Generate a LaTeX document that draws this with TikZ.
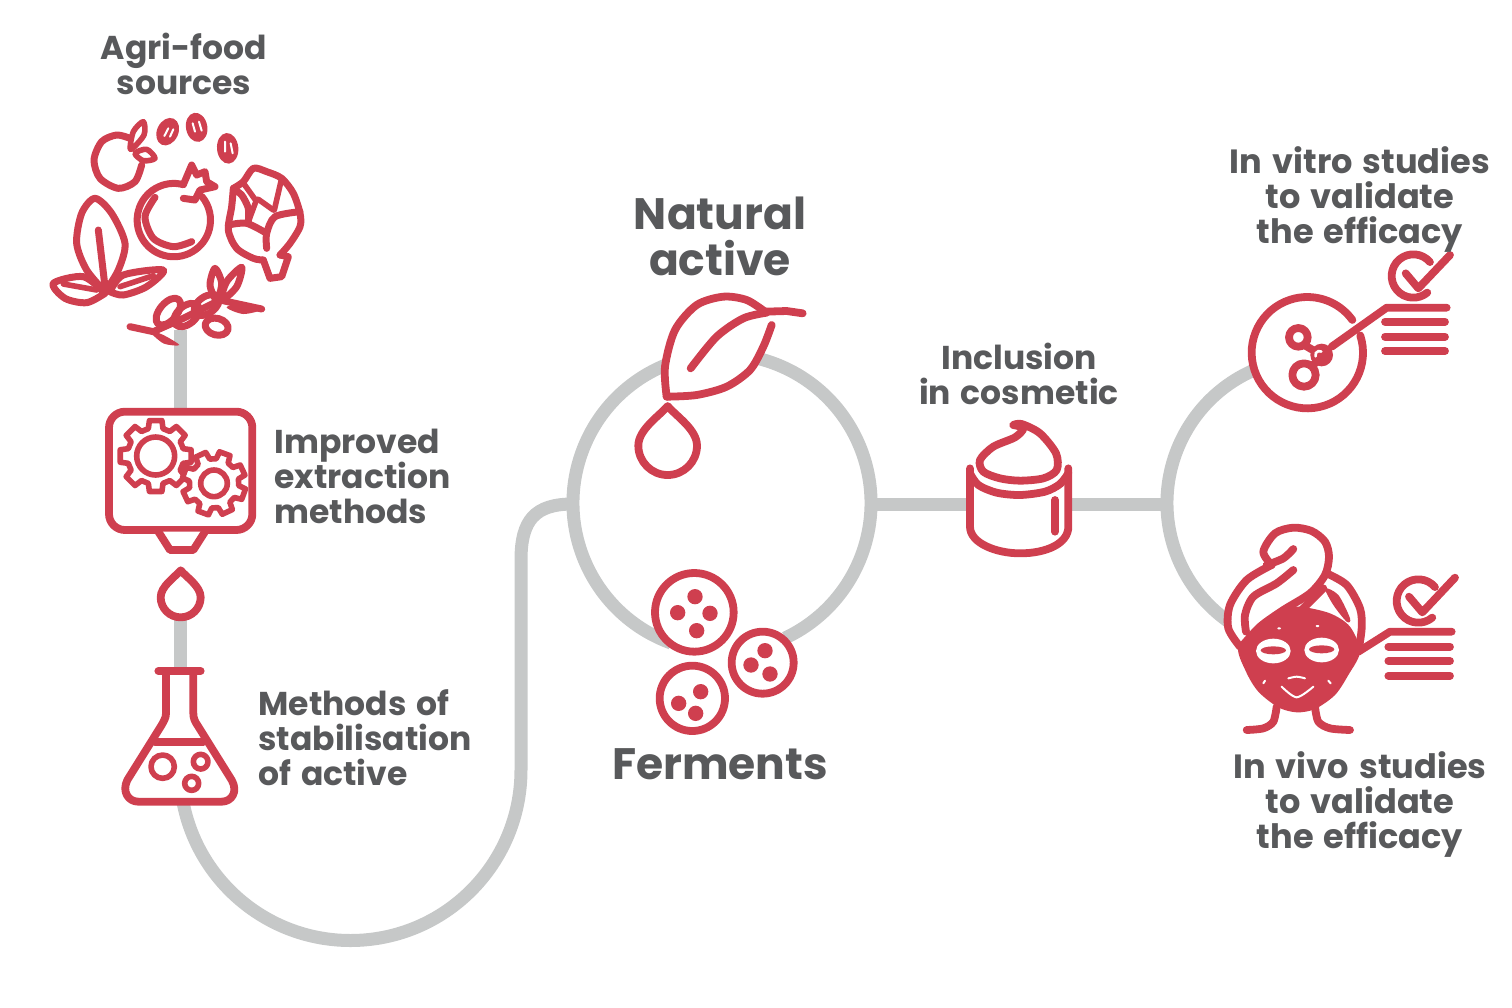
\documentclass[tikz,border=0pt]{standalone}
\usepackage{fontspec}
\setmainfont{Poppins}[WordSpace=1.4]
\normallineskiplimit=-100pt
\lineskiplimit=-100pt
\AtBeginDocument{\normallineskiplimit=-100pt \lineskiplimit=-100pt}
\definecolor{redc}{HTML}{CF3F4F}
\definecolor{grayc}{HTML}{C6C8C8}
\definecolor{textc}{HTML}{58595B}
\tikzset{
  ic/.style={draw=redc,line width=3.9pt,line cap=round,line join=round},
  icfood/.style={ic,line width=3.5pt},
  icthin/.style={ic,line width=2.8pt},
  ln/.style={draw=grayc,line width=6.5pt},
  spot/.style={fill=redc,draw=none},
  wline/.style={draw=white,line width=1pt,line cap=round},
  zoomed/.style={x=0.166667pt,y=-0.166667pt},
  lab/.style={font=\bfseries\fontsize{16.5}{17.5}\selectfont,text=textc,align=#1,inner sep=0pt},
  labw/.style={font=\bfseries\fontsize{16.8}{17.5}\selectfont,text=textc,align=center,inner sep=0pt},
  big/.style={font=\bfseries\fontsize{22}{23}\selectfont,text=textc,align=center,inner sep=0pt}
}
\newcommand\dropicon[3]{\draw[ic,fill=white,shift={(#1,#2)},scale=#3] (0,-1.35) .. controls (-0.3,-1) and (-1,-0.55) .. (-1,0) .. controls (-1,0.55) and (-0.55,1) .. (0,1) .. controls (.55,1) and (1,.55) .. (1,0) .. controls (1,-.55) and (.3,-1) .. (0,-1.35) -- cycle;}
\newcommand\gearicon[6]{\begin{scope}[shift={(#1,#2)}]
\draw[icthin,fill=white] ({#6-22}:#4) \foreach \k in {0,...,#5} { -- ({#6+\k*360/(#5+1)-15}:#4) -- ({#6+\k*360/(#5+1)-10}:#3) -- ({#6+\k*360/(#5+1)+10}:#3) -- ({#6+\k*360/(#5+1)+15}:#4)} -- cycle;
\end{scope}}
\begin{document}
\begin{tikzpicture}[x=0.5pt,y=-0.5pt]
\useasboundingbox (0,0) rectangle (1512,1008);
% connectors
\coordinate (srcend) at (180,330);
\coordinate (boxtop) at (180,415);
\coordinate (dropend) at (180,610);
\coordinate (flasktop) at (180,672);
\coordinate (flaskbot) at (180,800);
\coordinate (loopa) at (180,770);
\coordinate (hubw) at (573,504);
\coordinate (hube) at (871,504);
\coordinate (fork) at (1167,504);
\coordinate (hubc) at (722,503);
\coordinate (forkc) at (1312,503);
\draw[ln] (srcend) -- (boxtop);
\draw[ln] (dropend) -- (flasktop);
\draw[ln] (flaskbot) -- (loopa) arc[start angle=180,end angle=0,radius=170.5] -- (521,560) .. controls (521,520) and (535,504) .. (hubw);
\draw[ln] (hubc) ++(110:149) arc[start angle=110,end angle=425,radius=149];
\draw[ln] (hube) -- (fork);
\draw[ln] (forkc) ++(-112:145) arc[start angle=248,end angle=123,radius=145];
% Agri-food
\begin{scope}[shift={(40,110)},zoomed]
\draw[icfood] plot[smooth] coordinates {(270,85) (230,75) (185,95) (162,150) (180,205) (235,235) (285,215) (305,165)};
\draw[icthin] plot[smooth cycle] coordinates {(272,118) (280,65) (310,35) (312,75)};
\draw[icthin] plot[smooth cycle] coordinates {(285,130) (320,118) (345,145) (310,152)};
\fill[redc] (383,65) ellipse[x radius=32,y radius=43,rotate=-25];
\fill[redc] (470,52) ellipse[x radius=32,y radius=44,rotate=10];
\fill[redc] (563,115) ellipse[x radius=32,y radius=46,rotate=5];
\draw[wline] (373,78) -- (385,55) (390,80) -- (400,58) (458,40) -- (465,65) (477,35) -- (485,62) (555,95) -- (555,125) (572,100) -- (578,130);
\draw[icfood] (430,224) arc[start angle=-75,end angle=-400,radius=110];
\draw[icfood] (430,224) -- (455,165) -- (470,195) -- (495,185) -- (500,215) -- (525,230) -- (480,240) -- (465,270) -- (430,265);
\draw[icfood] plot[smooth] coordinates {(345,262) (315,320) (340,385) (400,410) (455,395)};
\draw[icfood] plot[smooth] coordinates {(580,235) (610,215) (640,175) (680,185) (725,205) (760,250) (780,310) (780,350) (750,400) (720,435)};
\draw[icfood] (720,435) -- (745,440) -- (725,500) -- (690,505) -- (670,450);
\draw[icfood] plot[smooth] coordinates {(670,450) (640,445) (590,415) (565,360) (575,290) (580,235)};
\draw[icfood] plot[smooth] coordinates {(580,238) (605,255) (625,295) (625,335)};
\draw[icthin] (612,222) -- (645,268);
\draw[icthin] (650,268) -- (625,335);
\draw[icthin] (655,268) -- (700,300);
\draw[icthin] (725,205) -- (703,300);
\draw[icfood] plot[smooth] coordinates {(565,345) (620,340) (680,370)};
\draw[icfood] plot[smooth] coordinates {(680,415) (680,370) (705,320) (780,305)};
\draw[icfood] plot[smooth] coordinates {(195,545) (140,480) (110,400) (125,310) (165,265) (215,310) (255,400) (235,480) (195,545)};
\draw[icfood] (175,360) -- (195,530);
\draw[icfood] plot[smooth] coordinates {(195,550) (130,500) (40,520) (75,565) (140,578) (195,550)};
\draw[icthin] (70,522) -- (170,540);
\draw[icfood] plot[smooth] coordinates {(210,545) (250,495) (370,480) (320,530) (250,555) (210,545)};
\draw[icthin] (240,530) -- (340,497);
\draw[spot] plot[smooth cycle] coordinates {(325,660) (370,675) (418,705) (370,700)};
\draw[icfood] (270,650) -- (340,665) -- (430,625) -- (540,570);
\draw[icfood] (540,570) -- (665,597);
\draw[icfood] (385,605) ellipse[x radius=48,y radius=26,rotate=50];
\draw[icfood] (440,615) ellipse[x radius=44,y radius=27,rotate=40];
\draw[icfood] (500,585) ellipse[x radius=42,y radius=25,rotate=35];
\draw[icfood] (530,650) ellipse[x radius=35,y radius=25,rotate=-15];
\draw[icfood] plot[smooth cycle] coordinates {(525,475) (510,525) (530,570) (545,520)};
\draw[icfood] plot[smooth cycle] coordinates {(605,472) (560,515) (545,570) (590,530)};
\draw[spot] plot[smooth cycle] coordinates {(668,597) (610,578) (560,592) (610,612)};
\end{scope}
% gears + flask
\begin{scope}[shift={(90,400)},zoomed]
\draw[ic,fill=white,rounded corners=8pt] (57,35) rectangle (487,390);
\draw[ic,fill=white] (205,395) -- (240,450) -- (310,450) -- (345,395);
\gearicon{197}{168}{108}{85}{7}{0}
\draw[icthin] (197,168) circle[radius=57];
\gearicon{372}{250}{96}{74}{7}{20}
\draw[icthin] (372,250) circle[radius=40];
\dropicon{272}{592}{60}
\draw[ic,fill=white] (228,813) -- (228,940) .. controls (228,955) and (220,965) .. (215,975) -- (112,1140) .. controls (95,1175) and (115,1205) .. (145,1205) -- (395,1205) .. controls (425,1205) and (445,1175) .. (425,1140) -- (322,975) .. controls (315,965) and (310,955) .. (310,940) -- (310,813);
\draw[ic] (205,813) -- (332,813);
\draw[ic] (195,1025) -- (340,1025);
\draw[icthin] (218,1100) circle[radius=35];
\draw[icthin] (332,1085) circle[radius=22];
\draw[icthin] (305,1150) circle[radius=21];
\end{scope}
% natural active
\begin{scope}[shift={(620,280)},zoomed]
\fill[white] plot[smooth cycle] coordinates {(140,350) (135,260) (165,150) (230,75) (310,50) (380,60) (435,95) (455,135) (430,200) (390,270) (320,320) (230,345)};
\draw[ic] plot[smooth] coordinates {(140,350) (135,260) (165,150) (230,75) (310,50) (380,60) (435,95)};
\draw[ic] (435,95) -- (500,93) -- (548,100);
\draw[ic] plot[smooth] coordinates {(212,265) (290,170) (370,115) (440,98)};
\draw[ic] plot[smooth] coordinates {(140,350) (230,345) (320,320) (390,270) (430,200) (455,135)};
\dropicon{143}{497}{88}
\end{scope}
% ferments
\begin{scope}[shift={(640,560)},zoomed]
\draw[ic,fill=white] (163,157) circle[radius=118];
\draw[ic,fill=white] (368,308) circle[radius=93];
\draw[ic,fill=white] (157,415) circle[radius=98];
\foreach \p in {(165,110),(113,158),(210,160),(170,212),(375,272),(333,315),(390,342),(182,395),(116,430),(167,460)} \fill[redc] \p circle[radius=23];
\end{scope}
% jar
\begin{scope}[shift={(950,410)},zoomed]
\draw[ic,fill=white] (60,175) -- (60,350) .. controls (60,400) and (140,430) .. (210,430) .. controls (290,430) and (355,400) .. (355,350) -- (355,175);
\draw[ic] plot[smooth] coordinates {(60,190) (85,225) (140,248) (210,255) (285,245) (330,222) (355,190)};
\draw[ic,fill=white] plot[smooth] coordinates {(190,45) (220,55) (195,82) (130,110) (90,150) (100,185) (150,205) (210,212) (280,205) (320,180) (318,130) (270,70) (215,42) (190,45)};
\draw[ic] (315,270) -- (315,365);
\end{scope}
% in vitro
\begin{scope}[shift={(1230,240)},zoomed]
\fill[white] (232,338) circle[radius=167];
\draw[ic] (232,338) ++(-18:167) arc[start angle=-18,end angle=324,radius=167];
\draw[ic] (205,292) circle[radius=28];
\draw[ic] (222,405) circle[radius=35];
\draw[ic] (228,318) -- (262,338) (245,378) -- (265,362);
\fill[redc] (275,345) circle[radius=34];
\draw[draw=white,line width=1.3pt,line cap=round] (268,345) ++(-60:12) arc[start angle=-60,end angle=-200,radius=12];
\draw[ic] (305,320) -- (470,203) -- (650,203);
\draw[ic] (465,245) -- (645,245) (465,290) -- (645,290) (465,333) -- (645,333);
\draw[ic] (550,108) ++(-40:65) arc[start angle=-40,end angle=-310,radius=65];
\draw[ic] (527,100) -- (565,145) -- (660,45);
\end{scope}
% in vivo
\begin{scope}[shift={(1210,515)},zoomed]
\fill[white] plot[smooth cycle] coordinates {(185,150) (110,195) (60,270) (55,340) (90,395) (200,500) (445,410) (455,340) (450,280) (410,210) (350,175)};
\fill[redc] plot[smooth cycle] coordinates {(85,395) (150,330) (220,285) (270,275) (360,295) (420,335) (450,410) (415,480) (375,540) (315,582) (260,592) (205,577) (145,530) (108,470)};
\draw[ic,fill=white] plot[smooth] coordinates {(185,150) (160,110) (195,55) (250,38) (305,48) (345,80) (357,125) (345,180) (300,235) (220,285) (150,335) (95,395)};
\draw[ic] plot[smooth] coordinates {(185,150) (110,195) (60,270) (55,340) (90,395)};
\draw[ic] plot[smooth] coordinates {(250,102) (220,130) (170,150)};
\draw[ic] plot[smooth] coordinates {(250,165) (200,205) (130,245) (105,300) (108,350)};
\draw[ic] plot[smooth] coordinates {(350,175) (410,210) (450,280) (455,340) (445,410)};
\draw[ic] (270,290) -- (340,220);
\draw[spot] plot[smooth cycle] coordinates {(345,220) (385,240) (420,310) (410,320) (370,270)};
\fill[white] (190,408) ellipse[x radius=52,y radius=37];
\fill[white] (335,405) ellipse[x radius=52,y radius=37];
\fill[redc] (190,406) ellipse[x radius=38,y radius=12];
\fill[redc] (335,403) ellipse[x radius=38,y radius=12];
\draw[wline] plot[smooth] coordinates {(215,515) (260,547) (310,515)};
\draw[wline] plot[smooth] coordinates {(235,490) (260,485) (285,490)};
\draw[wline] (165,497) -- (160,505) (355,497) -- (362,505) (320,333) -- (325,333) (205,340) -- (210,340);
\draw[ic] plot[smooth] coordinates {(200,575) (190,620) (160,640) (110,645)};
\draw[ic] plot[smooth] coordinates {(315,575) (325,620) (360,640) (420,645)};
\draw[ic] (445,410) -- (540,350) -- (725,350);
\draw[ic] (535,395) -- (720,395) (535,438) -- (720,438) (535,482) -- (720,482);
\draw[ic] (625,258) ++(-40:65) arc[start angle=-40,end angle=-310,radius=65];
\draw[ic] (597,245) -- (637,292) -- (735,188);
\end{scope}
% labels
\node[lab=center] (agri) at (184,64) {Agri-food\\sources};
\node[lab=left,anchor=west] (improved) at (274,476) {Improved\\extraction\\methods};
\node[lab=left,anchor=west] (stab) at (258,738) {Methods of\\stabilisation\\of active};
\node[big] (natural) at (720,236) {Natural\\active};
\node[big] (ferments) at (720,764) {Ferments};
\node[lab=center] (inclusion) at (1019,374) {Inclusion\\in cosmetic};
\node[labw] (vitro) at (1360,199) {In vitro studies\\to validate\\the efficacy};
\node[labw] (vivo) at (1360,804) {In vivo studies\\to validate\\the efficacy};
\end{tikzpicture}
\end{document}
